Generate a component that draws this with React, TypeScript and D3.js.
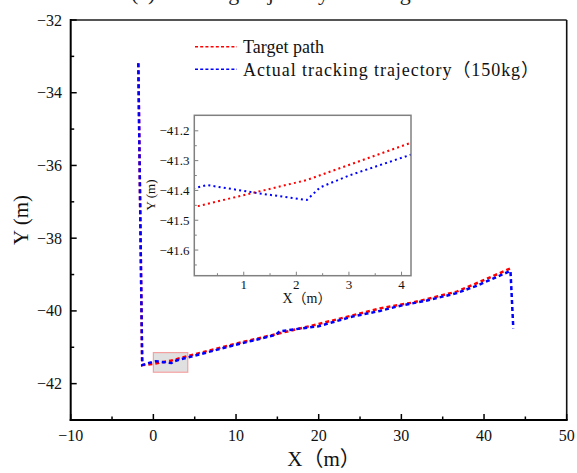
import React from "react";
import * as d3 from "d3";

// ── Data ───────────────────────────────────────────────────────────────────
const targetX = [-1.82, -1.35, 0, 2.2, 4.18, 10, 15, 20, 25, 27.4, 31.4, 36.7, 39.1, 43.2];
const targetY = [-33.19, -41.49, -41.458, -41.365, -41.24, -40.9, -40.63, -40.36, -40.07, -39.93, -39.77, -39.47, -39.24, -38.83];

const actualX = [-1.82, -1.35, 0, 0.3, 1.3, 2.2, 2.45, 3, 4.18, 10, 14.8, 15.3, 20, 24, 27.4, 30, 33, 36.7, 39.1, 43.2, 43.54];
const actualY = [-33.19, -41.49, -41.395, -41.382, -41.41, -41.432, -41.39, -41.35, -41.28, -40.93, -40.66, -40.56, -40.42, -40.16, -40.0, -39.85, -39.72, -39.51, -39.31, -38.9, -40.48];

const xTicks = [-10, 0, 10, 20, 30, 40, 50];
const xMinor = [-5, 5, 15, 25, 35, 45];
const yTicks = [-32, -34, -36, -38, -40, -42];
const yMinor = [-33, -35, -37, -39, -41, -43];

const inXTicks = [1, 2, 3, 4];
const inXMinor = [0.5, 1.5, 2.5, 3.5];
const inYTicks = [-41.2, -41.3, -41.4, -41.5, -41.6];
const inYMinor = [-41.25, -41.35, -41.45, -41.55, -41.65];

const zoomX = [0, 4.16];
const zoomY = [-41.686, -41.146];
const inDomX = [0.06, 4.18];

const legendItems = [
  { label: "Target path", color: "#ff0000", len: 0 },
  { label: "Actual tracking trajectory（150kg）", color: "#0000ff", len: 296 },
];

const W = 577;
const H = 473;
const FONT = "'Times New Roman', 'Liberation Serif', 'Noto Sans CJK SC', serif";
const fmt = (v: number) => (v < 0 ? "\u2212" + Math.abs(v) : String(v));
const fmt1 = (v: number) => (v < 0 ? "\u2212" + Math.abs(v).toFixed(1) : v.toFixed(1));

export default function App() {
  const x = d3.scaleLinear().domain([-10, 50]).range([70.7, 566.7]);
  const y = d3.scaleLinear().domain([-43, -32]).range([420, 20]);

  const ix = d3.scaleLinear().domain(inDomX).range([194.3, 411]);
  const iy = d3.scaleLinear().domain([zoomY[0], -41.148]).range([275.7, 115.3]);

  const mk = (xs: number[], ys: number[], sx: any, sy: any) =>
    d3.line<number>().x((i) => sx(xs[i])).y((i) => sy(ys[i]))(d3.range(xs.length)) || "";

  const [x0, x1] = x.range();
  const [yb, yt] = y.range();
  const [ix0, ix1] = ix.range();
  const [iyb, iyt] = iy.range();

  return (
    <div style={{ position: "absolute", left: 0, top: 0 }}>
      <svg width={W} height={H} style={{ display: "block", background: "#fff" }} fontFamily={FONT}>
        <defs>
          <clipPath id="inset-clip">
            <rect x={ix0} y={iyt} width={ix1 - ix0} height={iyb - iyt} />
          </clipPath>
        </defs>

        {/* title, cut off at the top edge as in the source figure */}
        <text x={131} y={-0.5} fontSize={22} fill="#222">(a) Tracking trajectory at 150kg</text>

        {/* zoom rectangle */}
        <rect
          x={x(zoomX[0])}
          y={y(zoomY[1])}
          width={x(zoomX[1]) - x(zoomX[0])}
          height={y(zoomY[0]) - y(zoomY[1])}
          fill="#e0e0e0"
          stroke="#f4a0a0"
          strokeWidth={1.2}
        />

        {/* main lines */}
        <path d={mk(targetX, targetY, x, y)} fill="none" stroke="#ff0000" strokeWidth={2.5} strokeDasharray="4,3" />
        <path d={mk(actualX, actualY, x, y)} fill="none" stroke="#0000ff" strokeWidth={2.5} strokeDasharray="4,3" />

        {/* main frame */}
        <line x1={x0} x2={x1} y1={yt} y2={yt} stroke="#555" strokeWidth={2} />
        <line x1={x1} x2={x1} y1={yt} y2={yb} stroke="#111" strokeWidth={1.6} />
        <line x1={x0} x2={x0} y1={yt - 1} y2={yb + 1} stroke="#000" strokeWidth={2} />
        <line x1={x0 - 1} x2={x1 + 1} y1={yb} y2={yb} stroke="#000" strokeWidth={2} />

        {/* x ticks */}
        {xTicks.map((t) => (
          <g key={"xt" + t}>
            <line x1={x(t)} x2={x(t)} y1={yb} y2={yb - 6} stroke="#000" strokeWidth={1.5} />
            <text x={x(t)} y={440.5} fontSize={16} textAnchor="middle" fill="#111">{fmt(t)}</text>
          </g>
        ))}
        {xMinor.map((t) => (
          <line key={"xm" + t} x1={x(t)} x2={x(t)} y1={yb} y2={yb - 3.5} stroke="#000" strokeWidth={1.5} />
        ))}

        {/* y ticks */}
        {yTicks.map((t) => (
          <g key={"yt" + t}>
            <line x1={x0} x2={x0 + 6} y1={y(t)} y2={y(t)} stroke="#000" strokeWidth={1.5} />
            <text x={62} y={y(t) + 5.5} fontSize={16} textAnchor="end" fill="#111">{fmt(t)}</text>
          </g>
        ))}
        {yMinor.map((t) => (
          <line key={"ym" + t} x1={x0} x2={x0 + 3.5} y1={y(t)} y2={y(t)} stroke="#000" strokeWidth={1.5} />
        ))}

        {/* axis titles */}
        <text x={324} y={466} fontSize={21} textAnchor="middle" fill="#111">X（m）</text>
        <text transform="translate(28,220) rotate(-90)" fontSize={21} textAnchor="middle" fill="#111">Y (m)</text>

        {/* legend */}
        {legendItems.map((d, i) => (
          <g key={d.label} transform={`translate(0,${46.7 + i * 22.6})`}>
            <line x1={195} x2={237} y1={0} y2={0} stroke={d.color} strokeWidth={1.5} strokeDasharray="3,2.2" />
            <text
              x={243}
              y={6.5}
              fontSize={18}
              fill="#111"
              {...(d.len ? { textLength: d.len, lengthAdjust: "spacing" } : {})}
            >
              {d.label}
            </text>
          </g>
        ))}

        {/* ── inset ── */}
        <rect x={ix0} y={iyt} width={ix1 - ix0} height={iyb - iyt} fill="#fff" />
        <g clipPath="url(#inset-clip)">
          <path d={mk(targetX, targetY, ix, iy)} fill="none" stroke="#ff0000" strokeWidth={2} strokeDasharray="2,3.2" />
          <path d={mk(actualX, actualY, ix, iy)} fill="none" stroke="#0000ff" strokeWidth={2} strokeDasharray="2,3.2" />
        </g>
        <rect x={ix0} y={iyt} width={ix1 - ix0} height={iyb - iyt} fill="none" stroke="#808080" strokeWidth={1.5} />

        {inXTicks.map((t) => (
          <g key={"ixt" + t}>
            <line x1={ix(t)} x2={ix(t)} y1={iyb} y2={iyb - 4} stroke="#808080" strokeWidth={1} />
            <text x={ix(t)} y={289} fontSize={13} textAnchor="middle" fill="#111">{t}</text>
          </g>
        ))}
        {inXMinor.map((t) => (
          <line key={"ixm" + t} x1={ix(t)} x2={ix(t)} y1={iyb} y2={iyb - 2.5} stroke="#808080" strokeWidth={1} />
        ))}
        {inYTicks.map((t) => (
          <g key={"iyt" + t}>
            <line x1={ix0} x2={ix0 + 4} y1={iy(t)} y2={iy(t)} stroke="#808080" strokeWidth={1} />
            <text x={189.5} y={iy(t) + 4.5} fontSize={13} textAnchor="end" fill="#111">{fmt1(t)}</text>
          </g>
        ))}
        {inYMinor.map((t) => (
          <line key={"iym" + t} x1={ix0} x2={ix0 + 2.5} y1={iy(t)} y2={iy(t)} stroke="#808080" strokeWidth={1} />
        ))}
        <text x={307} y={303} fontSize={14} textAnchor="middle" fill="#111">X（m）</text>
        <text transform="translate(155,195) rotate(-90)" fontSize={13} textAnchor="middle" fill="#111">Y (m)</text>
      </svg>
    </div>
  );
}
